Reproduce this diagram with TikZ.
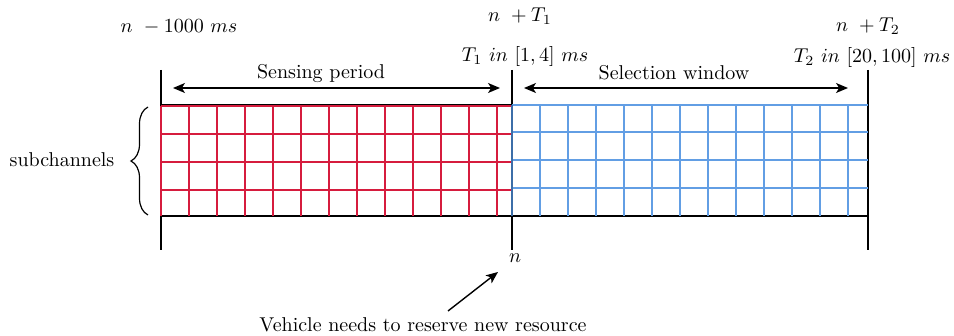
\documentclass[tikz,border=0pt]{standalone}
\usetikzlibrary{arrows.meta,decorations.pathreplacing}
\definecolor{gridred}{RGB}{214,28,62}
\definecolor{gridblue}{RGB}{98,158,228}
\definecolor{edgeblue}{RGB}{60,110,168}
\begin{document}
\begin{tikzpicture}[x=0.5pt,y=-0.5pt,
  axis/.style={line width=0.8pt,black},
  redgrid/.style={line width=0.65pt,gridred},
  bluegrid/.style={line width=0.65pt,gridblue},
  span/.style={line width=0.7pt,{Stealth[length=6pt,width=5pt,inset=1.6pt]}-{Stealth[length=6pt,width=5pt,inset=1.6pt]}},
  pointer/.style={line width=0.7pt,-{Stealth[length=6pt,width=5pt,inset=1.6pt]}},
  lbl/.style={anchor=base,inner sep=0pt,outer sep=0pt}]
\useasboundingbox (0,0) rectangle (954,336);
% time markers
\coordinate (l0) at (161,70); \coordinate (l1) at (161,250);
\coordinate (m0) at (512,70); \coordinate (m1) at (512,250);
\coordinate (r0) at (868,70); \coordinate (r1) at (868,250);
\draw[axis] (l0) -- (l1);
\draw[axis] (m0) -- (m1);
\draw[axis] (r0) -- (r1);
\coordinate (tl) at (161,104.5); \coordinate (tm) at (512,104.5);
\coordinate (bl) at (161,216); \coordinate (br) at (868,216);
\draw[axis] (tl) -- (tm);
\draw[axis] (bl) -- (br);
% red grid (sensing)
\foreach \k in {0,...,12} \draw[redgrid] (161+28*\k,106) -- (161+28*\k,216);
\foreach \yy in {106,134,162,190} \draw[redgrid] (161,\yy) -- (512,\yy);
% blue grid (selection)
\foreach \k in {1,...,12} \draw[bluegrid] (512+28*\k,105) -- (512+28*\k,216);
\foreach \yy in {105,132,160,188} \draw[bluegrid] (512,\yy) -- (868,\yy);
\draw[line width=0.8pt,edgeblue] (512,105) -- (512,216);
% span arrows
\coordinate (sa) at (173,88); \coordinate (sb) at (500,88);
\coordinate (wa) at (524,88); \coordinate (wb) at (848,88);
\draw[span] (sa) -- (sb);
\draw[span] (wa) -- (wb);
\node[lbl] (sens) at (321,78.5) {Sensing period};
\node[lbl] (sel) at (674,79.5) {Selection window};
% time labels
\node[lbl] (tstart) at (179,33) {$n\ -1000\ ms$};
\node[lbl] (tn1) at (520,21.7) {$n\ +T_1$};
\node[lbl] (tt1) at (525,61.5) {$T_1\ in\ [1,4]\ ms$};
\node[lbl] (tn2) at (868,31.7) {$n\ +T_2$};
\node[lbl] (tt2) at (872,63) {$T_2\ in\ [20,100]\ ms$};
\node[lbl] (nlab) at (515,263) {$n$};
% subchannels
\node[lbl] (sub) at (62,166.5) {subchannels};
\coordinate (b0) at (148,215); \coordinate (b1) at (148,107);
\draw[line width=0.6pt,decorate,decoration={brace,amplitude=8.5pt}] (b0) -- (b1);
% vehicle
\node[lbl] (veh) at (423,331.5) {Vehicle needs to reserve new resource};
\coordinate (vt) at (448,311); \coordinate (vh) at (498,272);
\draw[pointer] (vt) -- (vh);
\end{tikzpicture}
\end{document}
